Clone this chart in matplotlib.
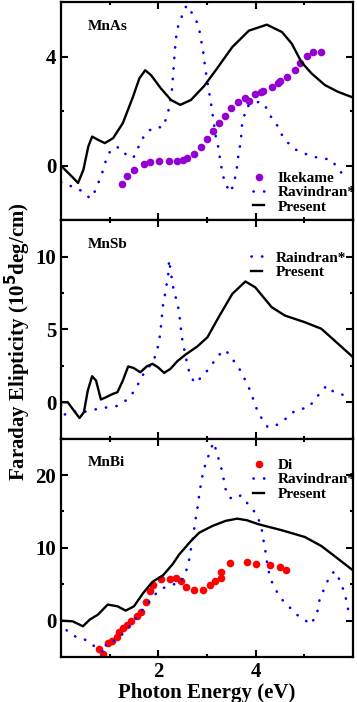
import numpy as np
import matplotlib
matplotlib.use('Agg')
from matplotlib import pyplot as plt

plt.rcParams['font.family'] = ['Liberation Serif', 'DejaVu Serif']
plt.rcParams['font.weight'] = 'bold'
plt.rcParams['axes.labelweight'] = 'bold'
plt.rcParams['mathtext.default'] = 'bf'

# MnAs panel
mnas_present_e = [0.0, 0.22, 0.35, 0.46, 0.56, 0.64, 0.76, 0.9, 1.07, 1.27, 1.48, 1.61, 1.73, 1.85,
                  2.05, 2.26, 2.45, 2.67, 2.94, 3.18, 3.52, 3.86, 4.23, 4.54, 4.74, 4.94, 5.15, 5.42, 5.69, 6.0]
mnas_present_v = [0.0, -0.39, -0.63, -0.15, 0.7, 1.07, 0.95, 0.83, 1.01, 1.56, 2.53, 3.2, 3.5, 3.32,
                  2.84, 2.41, 2.23, 2.41, 2.92, 3.5, 4.35, 4.95, 5.17, 4.9, 4.48, 3.8, 3.38, 2.96, 2.71, 2.5]
mnas_ravi_e = [0.0, 0.08, 0.3, 0.46, 0.6, 0.71, 0.85, 0.91, 0.98, 1.12, 1.25, 1.36, 1.49, 1.66, 1.76, 1.92,
               2.1, 2.16, 2.22, 2.28, 2.34, 2.38, 2.44, 2.58, 2.7, 2.79, 2.85, 2.92, 2.97, 3.03, 3.07,
               3.13, 3.18, 3.23, 3.29, 3.33, 3.38, 3.49, 3.55, 3.6, 3.65, 3.69, 3.72, 3.77, 3.82, 3.95,
               4.1, 4.23, 4.33, 4.45, 4.54, 4.66, 4.8, 4.98, 5.18, 5.35, 5.54, 5.66, 5.78, 5.88]
mnas_ravi_v = [-0.6, -0.69, -0.79, -0.97, -1.2, -0.9, -0.24, 0.12, 0.46, 0.7, 0.62, 0.34, 0.3, 0.95, 1.23, 1.41,
               1.41, 1.74, 2.1, 2.77, 4.23, 4.96, 5.29, 5.88, 5.57, 5.27, 4.9, 4.2, 3.5, 2.84, 2.43,
               1.7, 1.07, 0.7, 0.0, -0.36, -0.69, -0.97, -0.63, -0.27, 0.46, 0.83, 1.5, 1.86, 2.16, 2.3,
               2.35, 2.1, 1.74, 1.46, 1.13, 0.85, 0.61, 0.46, 0.34, 0.26, 0.24, -0.02, -0.3, -0.05]
ikekame_e = [1.26, 1.36, 1.51, 1.71, 1.82, 2.02, 2.21, 2.38, 2.5, 2.58, 2.73, 2.87, 2.99, 3.12, 3.24, 3.37,
             3.5, 3.64, 3.78, 3.86, 3.99, 4.1, 4.16, 4.33, 4.45, 4.5, 4.65, 4.8, 4.92, 5.05, 5.18, 5.34]
ikekame_v = [-0.67, -0.36, -0.15, 0.06, 0.12, 0.16, 0.18, 0.19, 0.22, 0.28, 0.44, 0.69, 0.97, 1.28, 1.56, 1.84,
             2.1, 2.35, 2.47, 2.37, 2.62, 2.7, 2.75, 2.9, 3.02, 3.1, 3.26, 3.5, 3.75, 4.03, 4.17, 4.16]

# MnSb panel
mnsb_present_e = [0.0, 0.14, 0.24, 0.38, 0.47, 0.55, 0.64, 0.72, 0.82, 0.92, 1.06, 1.16, 1.27, 1.38, 1.49,
                  1.63, 1.76, 1.88, 1.99, 2.12, 2.25, 2.39, 2.56, 2.8, 3.01, 3.24, 3.52, 3.79, 3.99, 4.33,
                  4.6, 5.01, 5.35, 5.62, 6.0]
mnsb_present_v = [0.0, 0.0, -0.46, -1.08, -0.69, 0.8, 1.79, 1.49, 0.19, 0.34, 0.57, 0.69, 1.49, 2.46, 2.36,
                  2.06, 2.46, 2.64, 2.41, 2.02, 2.3, 2.82, 3.28, 3.83, 4.47, 5.85, 7.45, 8.3, 7.9, 6.53,
                  5.96, 5.5, 5.05, 4.24, 3.1]
mnsb_ravi_e = [0.0, 0.07, 0.24, 0.42, 0.6, 0.78, 0.97, 1.16, 1.33, 1.47, 1.57, 1.66, 1.8, 1.9, 1.96, 2.01,
               2.04, 2.08, 2.1, 2.14, 2.17, 2.21, 2.22, 2.24, 2.27, 2.31, 2.36, 2.41, 2.44, 2.48, 2.52,
               2.56, 2.6, 2.65, 2.75, 2.85, 2.99, 3.11, 3.23, 3.38, 3.5, 3.64, 3.73, 3.82, 3.9, 3.97,
               4.04, 4.14, 4.25, 4.41, 4.58, 4.72, 4.91, 5.08, 5.2, 5.32, 5.46, 5.61, 5.78, 5.9]
mnsb_ravi_v = [-0.2, -0.85, -0.62, -0.69, -0.58, -0.43, -0.34, -0.25, 0.12, 0.62, 1.15, 1.77, 2.41, 2.82, 3.44, 4.06,
               4.75, 6.12, 6.81, 7.45, 8.1, 8.94, 9.79, 9.33, 8.65, 7.8, 7.18, 6.49, 5.8, 4.52, 3.83,
               3.2, 2.52, 1.9, 1.31, 1.61, 2.11, 2.64, 3.21, 3.6, 3.05, 2.46, 1.88, 1.31, 0.69, 0.0,
               -0.62, -1.19, -1.72, -1.6, -1.26, -0.76, -0.46, -0.39, 0.12, 0.62, 1.15, 0.69, 0.53, 0.2]

# MnBi panel
mnbi_present_e = [0.0, 0.24, 0.45, 0.59, 0.76, 0.96, 1.16, 1.33, 1.5, 1.69, 1.88, 2.1, 2.29, 2.43, 2.67,
                  2.84, 3.11, 3.38, 3.62, 3.82, 4.06, 4.54, 5.01, 5.35, 5.62, 6.0]
mnbi_present_v = [0.0, -0.1, -0.78, 0.13, 0.83, 2.2, 1.97, 1.37, 1.97, 3.8, 5.33, 6.25, 7.72, 9.1, 10.94,
                  12.08, 13.0, 13.7, 14.01, 13.79, 13.24, 12.41, 11.49, 10.25, 8.87, 6.9]
mnbi_ravi_e = [0.0, 0.13, 0.29, 0.47, 0.62, 0.79, 0.88, 0.94, 1.13, 1.27, 1.4, 1.54, 1.65, 1.78, 1.91, 2.06,
               2.24, 2.42, 2.46, 2.51, 2.61, 2.65, 2.7, 2.76, 2.8, 2.85, 2.92, 2.99, 3.06, 3.13, 3.19, 3.24,
               3.3, 3.35, 3.38, 3.46, 3.57, 3.69, 3.82, 3.96, 4.05, 4.12, 4.15, 4.19, 4.22, 4.25, 4.3,
               4.37, 4.46, 4.57, 4.71, 4.84, 5.01, 5.11, 5.25, 5.32, 5.42, 5.51, 5.62, 5.72, 5.8, 5.86,
               5.9, 5.95]
mnbi_ravi_v = [-0.1, -1.48, -2.16, -2.49, -3.31, -3.77, -4.47, -2.95, -2.72, -1.8, -0.8, 0.37, 1.28, 2.29, 3.44, 4.37,
               4.82, 5.19, 5.19, 6.11, 7.4, 9.1, 10.94, 13.7, 15.3, 17.8, 20.4, 22.0, 23.1, 24.5, 23.4, 22.2,
               20.8, 19.2, 18.1, 16.9, 16.7, 17.2, 16.2, 15.1, 14.07, 12.77, 11.4, 10.0, 8.63, 7.26, 5.88,
               4.73, 3.68, 2.66, 1.74, 0.83, 0.14, -0.55, 0.6, 3.12, 4.5, 5.97, 6.8, 5.66, 4.28, 2.9,
               1.52, 0.36]
di_e = [0.78, 0.87, 0.96, 1.05, 1.15, 1.2, 1.28, 1.35, 1.43, 1.56, 1.64, 1.74, 1.83, 1.9, 2.05, 2.23, 2.37,
        2.47, 2.57, 2.73, 2.91, 3.07, 3.17, 3.29, 3.29, 3.48, 3.82, 4.01, 4.3, 4.49, 4.62]
di_v = [-3.87, -4.6, -3.09, -2.85, -2.3, -1.61, -1.01, -0.55, -0.1, 0.6, 1.19, 2.57, 4.05, 4.87, 5.65, 5.65, 5.88,
        5.42, 4.64, 4.18, 4.18, 4.87, 5.42, 5.88, 6.7, 7.95, 8.04, 7.81, 7.59, 7.39, 6.9]

dots = (0, (0.1, 3.9))
dot_kw = dict(color='blue', lw=1.9, ls=dots, dash_capstyle='round')
fig = plt.figure(figsize=(3.57, 7.02), dpi=100)
left, right, bottom, top = 61 / 357, 353 / 357, 1 - 657 / 702, 1 - 2 / 702
h = (top - bottom) / 3
axes = [fig.add_axes([left, bottom + (2 - i) * h, right - left, h]) for i in range(3)]

for ax in axes:
    ax.set_xlim(0, 6)
    ax.set_xticks([2, 4])
    ax.set_xticks([1, 3, 5], minor=True)
    ax.tick_params(which='both', direction='in', top=True, right=True, width=1.5, labelsize=15)
    ax.tick_params(which='major', length=5)
    ax.tick_params(which='minor', length=2.5)
    for s in ax.spines.values():
        s.set_linewidth(1.6)

ax1, ax2, ax3 = axes
ax1.plot(ikekame_e, ikekame_v, 'o', color='#9400d3', ms=5.5, mec='none', label='Ikekame')
ax1.plot(mnas_ravi_e, mnas_ravi_v, label='Ravindran*', **dot_kw)
ax1.plot(mnas_present_e, mnas_present_v, color='black', lw=1.7, label='Present')
ax1.set_ylim(-2, 6)
ax1.set_yticks([0, 4])
ax1.set_yticks([-2, 2, 6], minor=True)
ax1.text(0.092, 0.89, 'MnAs', transform=ax1.transAxes, fontsize=11, va='center')

ax2.plot(mnsb_ravi_e, mnsb_ravi_v, label='Raindran*', **dot_kw)
ax2.plot(mnsb_present_e, mnsb_present_v, color='black', lw=1.7, label='Present')
ax2.set_ylim(-2.5, 12.5)
ax2.set_yticks([0, 5, 10])
ax2.set_yticks([-2.5, 2.5, 7.5, 12.5], minor=True)
ax2.text(0.092, 0.89, 'MnSb', transform=ax2.transAxes, fontsize=11, va='center')

ax3.plot(di_e, di_v, 'o', color='red', ms=5.5, mec='none', label='Di')
ax3.plot(mnbi_ravi_e, mnbi_ravi_v, label='Ravindran*', **dot_kw)
ax3.plot(mnbi_present_e, mnbi_present_v, color='black', lw=1.7, label='Present')
ax3.set_ylim(-5, 25)
ax3.set_yticks([0, 10, 20])
ax3.set_yticks([-5, 5, 15, 25], minor=True)
ax3.text(0.092, 0.89, 'MnBi', transform=ax3.transAxes, fontsize=11, va='center')

ax1.tick_params(labelbottom=False)
ax2.tick_params(labelbottom=False)
ax3.set_xlabel('Photon Energy (eV)', fontsize=15, labelpad=1)

leg_kw = dict(frameon=False, fontsize=11, handlelength=0.7, handletextpad=0.9,
              labelspacing=0.05, borderpad=0, borderaxespad=0, markerscale=1.0)
ax1.legend(loc='lower right', bbox_to_anchor=(1.01, 0.03), **leg_kw)
ax2.legend(loc='upper right', bbox_to_anchor=(0.975, 0.86), **leg_kw)
ax3.legend(loc='upper right', bbox_to_anchor=(1.01, 0.91), **leg_kw)

fig.text(0.05, 0.513, 'Faraday Elipticity (10$^5$deg/cm)', rotation=90,
         ha='center', va='center', fontsize=15)

fig.savefig('out.png', dpi=100)
